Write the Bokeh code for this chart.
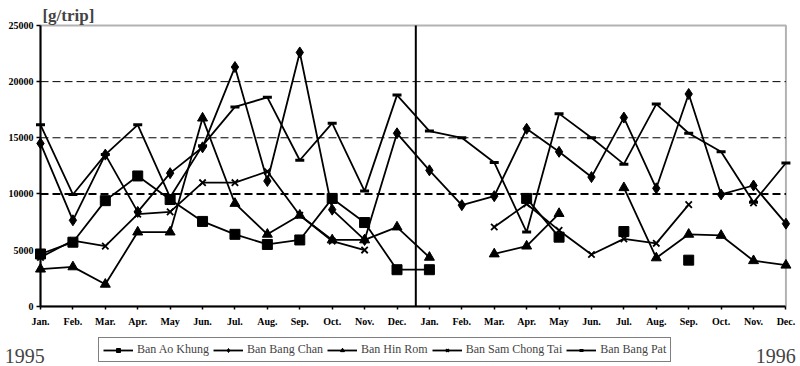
from bokeh.plotting import figure
from bokeh.models import (Range1d, FixedTicker, Label, Legend, LegendItem, ColumnDataSource,
                          BoxAnnotation)
from bokeh.embed import file_html
from bokeh.resources import INLINE

nan = float("nan")

months = ["Jan.", "Feb.", "Mar.", "Apr.", "May", "Jun.", "Jul.", "Aug.", "Sep.", "Oct.", "Nov.", "Dec.",
          "Jan.", "Feb.", "Mar.", "Apr.", "May", "Jun.", "Jul.", "Aug.", "Sep.", "Oct.", "Nov.", "Dec."]

ban_ao_khung = [4650, 5700, 9400, 11600, 9500, 7550, 6400, 5500, 5900, 9600, 7450, 3250,
                3250, nan, nan, 9600, 6150, nan, 6650, nan, 4100, nan, nan, nan]
ban_bang_chan = [14500, 7650, 13500, 8400, 11850, 14150, 21300, 11150, 22600, 8600, 5900, 15400,
                 12100, 9000, 9800, 15800, 13750, 11500, 16800, 10500, 18900, 9950, 10750, 7350]
ban_hin_rom = [3300, 3500, 1950, 6600, 6600, 16750, 9150, 6400, 8100, 5900, 5900, 7050,
               4350, nan, 4650, 5350, 8250, nan, 10550, 4300, 6400, 6300, 4050, 3650]
ban_sam_chong_tai = [4350, 5850, 5350, 8200, 8400, 11000, 11000, 12000, 8100, 5800, 5000, nan,
                     nan, nan, 7050, 9100, 6750, 4600, 6000, 5600, 9050, nan, 9200, nan]
ban_bang_pat = [16150, 9950, 13500, 16150, 9700, 14300, 17750, 18600, 13000, 16300, 10250, 18800,
                15600, 15000, 12800, 6600, 17150, 15000, 12650, 18000, 15400, 13750, 9250, 12750]

y_ticks = [0, 5000, 10000, 15000, 20000, 25000]
grid_values = [10000, 15000, 20000]
grid_widths = [2, 1, 1]
year_labels = ["1995", "1996"]
y_unit = "[g/trip]"

series = [
    ("Ban Ao Khung", ban_ao_khung, "square", 10, 1),
    ("Ban Bang Chan", ban_bang_chan, "diamond", 11, 1),
    ("Ban Hin Rom", ban_hin_rom, "triangle", 10, 1),
    ("Ban Sam Chong Tai", ban_sam_chong_tai, "x", 9, 1.8),
    ("Ban Bang Pat", ban_bang_pat, "dash", 9, 3),
]

SERIF = "Liberation Serif"
W, H = 800, 366
X_PX = 32.41      # pixels per month
Y_PX = 11.228     # pixels per 1000 g/trip
LEFT, BOTTOM = 40, 305.7

x = list(range(len(months)))
x_last = len(months) - 1
y_top = y_ticks[-1]

x_range = Range1d(-LEFT / X_PX, -LEFT / X_PX + W / X_PX)
y_range = Range1d(-(H - BOTTOM) / Y_PX * 1000, -(H - BOTTOM) / Y_PX * 1000 + H / Y_PX * 1000)

p = figure(width=W, height=H, output_backend="svg", toolbar_location=None,
           x_range=x_range, y_range=y_range,
           min_border=0, min_border_left=0, min_border_right=0,
           min_border_top=0, min_border_bottom=0)
p.background_fill_color = "white"
p.border_fill_color = "white"
p.outline_line_color = None
p.xgrid.visible = False
p.ygrid.visible = False

# axes placed at the data origin
p.xaxis.fixed_location = 0
p.yaxis.fixed_location = 0
p.xaxis.bounds = (0, x_last)
p.yaxis.bounds = (0, y_top)
p.xaxis.ticker = FixedTicker(ticks=x)
p.xaxis.major_label_overrides = {i: m for i, m in enumerate(months)}
p.yaxis.ticker = FixedTicker(ticks=y_ticks)
p.yaxis.major_label_overrides = {v: str(v) for v in y_ticks}
for ax in (p.xaxis[0], p.yaxis[0]):
    ax.axis_line_color = "black"
    ax.axis_line_width = 2
    ax.major_tick_line_color = "black"
    ax.major_tick_line_width = 1.5
    ax.major_tick_in = 0
    ax.minor_tick_line_color = None
    ax.major_label_text_font = SERIF
    ax.major_label_text_font_style = "bold"
    ax.major_label_text_font_size = "10px"
    ax.major_label_text_color = "black"
p.xaxis.major_tick_out = 3
p.xaxis.major_label_standoff = 7
p.yaxis.major_tick_out = 4
p.yaxis.major_label_standoff = 3

# chart box (top and right edges)
p.add_layout(BoxAnnotation(left=0, right=x_last, bottom=0, top=y_top,
                           fill_alpha=0, line_color="black", line_width=2))

# dashed reference lines
p.segment(x0=[0] * len(grid_values), x1=[x_last] * len(grid_values),
          y0=grid_values, y1=grid_values, line_color="black",
          line_dash="8 4", line_width=grid_widths)

# year separator
p.segment(x0=[11.58], x1=[11.58], y0=[0], y1=[y_top], line_color="black", line_width=2)

items = []
for name, vals, marker, size, lw in series:
    src = ColumnDataSource(dict(x=x, y=vals))
    r1 = p.line("x", "y", source=src, line_color="black", line_width=1.8)
    if marker in ("x", "dash"):
        r2 = p.scatter("x", "y", source=src, marker=marker, size=size,
                       line_color="black", line_width=lw)
    else:
        r2 = p.scatter("x", "y", source=src, marker=marker, size=size,
                       line_color="black", fill_color="black", line_width=lw)
    items.append(LegendItem(label=name, renderers=[r1, r2]))

legend = Legend(items=items, orientation="horizontal", location=(98, 4),
                border_line_color="black", border_line_width=1,
                background_fill_alpha=1, background_fill_color="white",
                label_text_font=SERIF, label_text_font_size="12px",
                glyph_width=30, glyph_height=10, label_standoff=4,
                spacing=4, padding=4, margin=0, label_height=10)
p.add_layout(legend, "center")

# texts
p.add_layout(Label(x=0.06, y=25900, text=y_unit, text_font=SERIF, text_font_style="bold",
                   text_font_size="17px", text_baseline="alphabetic", text_align="left"))
p.add_layout(Label(x=-1.1, y=-4400, text=year_labels[0], text_font=SERIF,
                   text_font_size="20px", text_baseline="alphabetic", text_align="left"))
p.add_layout(Label(x=23.3, y=-4400, text=year_labels[1], text_font=SERIF,
                   text_font_size="20px", text_baseline="alphabetic", text_align="right"))

open("out.html", "w").write(file_html(p, INLINE))
